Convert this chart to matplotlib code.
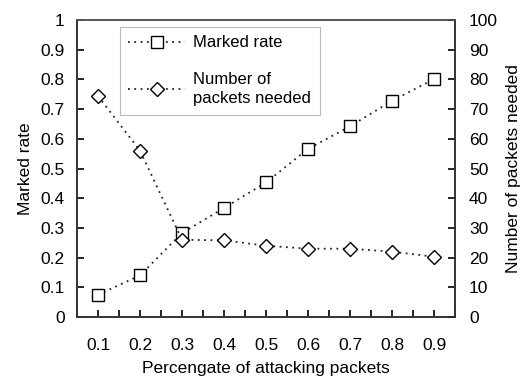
import numpy as np
import matplotlib.pyplot as plt

plt.rcParams['font.family'] = ['Liberation Sans', 'DejaVu Sans']

# Data
attack = [0.1, 0.2, 0.3, 0.4, 0.5, 0.6, 0.7, 0.8, 0.9]
marked_rate = [0.075, 0.14, 0.283, 0.367, 0.453, 0.566, 0.642, 0.728, 0.801]
packets_needed = [74.4, 56.0, 26.0, 25.8, 24.0, 23.0, 23.0, 22.0, 20.3]

fig = plt.figure(figsize=(5.25, 3.78), dpi=100)
ax = fig.add_axes([0.1467, 0.1614, 0.72, 0.7856])
ax2 = ax.twinx()

dots = (0, (1, 2.5))
l1, = ax.plot(attack, marked_rate, linestyle=dots, color='#222222', lw=1.3,
              marker='s', markersize=8, markerfacecolor='white',
              markeredgecolor='black', markeredgewidth=1.0, label='Marked rate')
l2, = ax2.plot(attack, packets_needed, linestyle=dots, color='#222222', lw=1.3,
               marker='D', markersize=7, markerfacecolor='white',
               markeredgecolor='black', markeredgewidth=1.0,
               label='Number of\npackets needed')

ax.set_xlim(0.05, 0.95)
ax.set_ylim(0, 1)
ax2.set_ylim(0, 100)

ax.set_xticks(attack)
ax.set_xticklabels([f"{v:.1f}" for v in attack])
ax.set_xticks(np.arange(0.05, 0.951, 0.05), minor=True)
ax.set_yticks(np.arange(0, 1.01, 0.1))
ax.set_yticklabels(["0"] + [f"{v:.1f}" for v in np.arange(0.1, 0.95, 0.1)] + ["1"])
ax2.set_yticks(np.arange(0, 101, 10))

fs = 12.5
ax.tick_params(axis='x', which='both', direction='in', length=5, pad=15, labelsize=fs, width=1.2)
ax.tick_params(axis='y', direction='in', length=5, pad=9, labelsize=fs, width=1.2)
ax2.tick_params(axis='y', direction='in', length=5, pad=10, labelsize=fs, width=1.2)

for a in (ax, ax2):
    for s in a.spines.values():
        s.set_linewidth(1.2)
        s.set_color('#333333')
    a.spines['top'].set_color('#555555')

ax.set_xlabel("Percengate of attacking packets", fontsize=fs, labelpad=6)
ax.set_ylabel("Marked rate", fontsize=fs, labelpad=5)
ax2.set_ylabel("Number of packets needed", fontsize=fs, labelpad=6)

leg = ax.legend(handles=[l1, l2], loc='upper left', bbox_to_anchor=(0.114, 0.976),
                borderaxespad=0, fontsize=12, frameon=True, fancybox=False,
                handlelength=3.4, labelspacing=1.3, borderpad=0.5,
                handletextpad=0.5)
for t in leg.get_texts():
    t.set_linespacing(1.35)
leg.get_frame().set_edgecolor('#aaaaaa')
leg.get_frame().set_linewidth(0.8)

fig.savefig("out.png", dpi=100)
